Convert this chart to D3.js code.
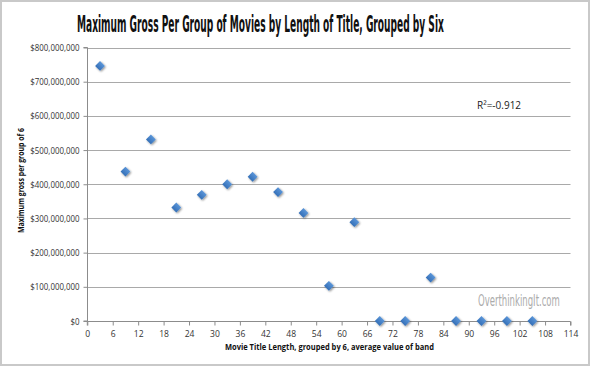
<!DOCTYPE html>
<html>
<head>
<meta charset="utf-8">
<script src="https://cdn.jsdelivr.net/npm/d3@7"></script>
<style>
  body { margin: 0; background: #fff; }
  svg { display: block; }
</style>
</head>
<body>
<script>
// band midpoints (title length, grouped by 6)
var bands = [3, 9, 15, 21, 27, 33, 39, 45, 51, 57, 63, 69, 75, 81, 87, 93, 99, 105];
// maximum gross per band, dollars
var maxGross = [746e6, 437e6, 531e6, 332e6, 369e6, 400e6, 422e6, 377e6, 316e6,
                103e6, 289e6, 0, 0, 127e6, 0, 0, 0, 0];
var xTicks = d3.range(0, 115, 6);
var yTicks = d3.range(0, 800000001, 100000000);

var width = 590, height = 366;
var margin = {top: 47.5, right: 19.5, bottom: 45, left: 87.3};

var svg = d3.select("body").append("svg")
    .attr("width", width)
    .attr("height", height);

// outer frame
svg.append("rect")
    .attr("x", 1).attr("y", 1)
    .attr("width", width - 2).attr("height", height - 2)
    .attr("fill", "#fff")
    .attr("stroke", "#c9c9c9")
    .attr("stroke-width", 2);

var defs = svg.append("defs");
var shadow = defs.append("filter").attr("id", "shadow")
    .attr("x", "-50%").attr("y", "-50%").attr("width", "200%").attr("height", "200%");
shadow.append("feGaussianBlur").attr("in", "SourceAlpha").attr("stdDeviation", 1.3);
shadow.append("feOffset").attr("dx", 0.5).attr("dy", 1.2).attr("result", "blur");
shadow.append("feComponentTransfer").append("feFuncA").attr("type", "linear").attr("slope", 0.45);
var merge = shadow.append("feMerge");
merge.append("feMergeNode");
merge.append("feMergeNode").attr("in", "SourceGraphic");

var grad = defs.append("linearGradient").attr("id", "blue")
    .attr("x1", 0).attr("y1", 0).attr("x2", 0).attr("y2", 1);
grad.append("stop").attr("offset", "0%").attr("stop-color", "#5a95d8");
grad.append("stop").attr("offset", "100%").attr("stop-color", "#3570b8");

var x = d3.scaleLinear().domain([0, 114]).range([margin.left, width - margin.right]);
var y = d3.scaleLinear().domain([0, 800000000]).range([height - margin.bottom, margin.top]);

var font = "'Open Sans', 'DejaVu Sans', sans-serif";
var condensed = "'DejaVu Sans Condensed', 'Liberation Sans Narrow', sans-serif";

// squeeze a text horizontally to a given width, keeping its left edge at x0
function squeeze(sel, x0, y0, w) {
  var len = sel.node().getComputedTextLength();
  sel.attr("transform", "translate(" + x0 + "," + y0 + ") scale(" + (w / len) + ",1)");
}

// title
var title = svg.append("text")
    .attr("font-family", condensed)
    .attr("font-weight", "bold")
    .attr("font-size", 23)
    .attr("fill", "#111")
    .text("Maximum Gross Per Group of Movies by Length of Title, Grouped by Six");
squeeze(title, 77, 32, 367);

// gridlines
svg.append("g")
  .selectAll("line")
  .data(yTicks.slice(1))
  .enter().append("line")
    .attr("x1", x(0)).attr("x2", x(114))
    .attr("y1", function(d) { return Math.round(y(d)) + 0.5; })
    .attr("y2", function(d) { return Math.round(y(d)) + 0.5; })
    .attr("stroke", "#a9a9a9")
    .attr("stroke-width", 1);

// y axis
var yAxis = svg.append("g")
    .attr("transform", "translate(" + (Math.round(x(0)) + 0.5) + ",0)")
    .call(d3.axisLeft(y).tickValues(yTicks).tickSize(4).tickPadding(4)
      .tickFormat(function(d) { return "$" + d3.format(",")(d); }));

// x axis
var xAxis = svg.append("g")
    .attr("transform", "translate(0," + (Math.round(y(0)) + 0.5) + ")")
    .call(d3.axisBottom(x).tickValues(xTicks).tickSize(4).tickPadding(5));

[yAxis, xAxis].forEach(function(a) {
  a.select(".domain").attr("stroke", "#8c8c8c");
  a.selectAll(".tick line").attr("stroke", "#8c8c8c");
  a.selectAll("text")
    .attr("font-family", font)
    .attr("font-size", 9.5)
    .attr("fill", "#333");
});
// narrower labels, like the original
yAxis.selectAll(".tick text").each(function() {
  var len = this.getComputedTextLength();
  d3.select(this)
    .attr("textLength", len * 0.83)
    .attr("lengthAdjust", "spacingAndGlyphs");
});
xAxis.selectAll(".tick text").each(function() {
  var len = this.getComputedTextLength();
  d3.select(this)
    .attr("textLength", len * 0.9)
    .attr("lengthAdjust", "spacingAndGlyphs");
});
yAxis.select(".domain").attr("d", "M-4," + y(800000000) + "H0V" + y(0) + "H-4");
xAxis.select(".domain").attr("d", "M" + x(0) + ",4V0H" + x(114) + "V4");

// axis titles
svg.append("text")
    .attr("x", x(57) - 104).attr("y", 350)
    .attr("textLength", 209)
    .attr("lengthAdjust", "spacingAndGlyphs")
    .attr("font-family", font)
    .attr("font-weight", "bold")
    .attr("font-size", 9)
    .attr("fill", "#111")
    .text("Movie Title Length, grouped by 6, average value of band");

svg.append("text")
    .attr("transform", "translate(24," + 233 + ") rotate(-90)")
    .attr("textLength", 105)
    .attr("lengthAdjust", "spacingAndGlyphs")
    .attr("font-family", font)
    .attr("font-weight", "bold")
    .attr("font-size", 9)
    .attr("fill", "#111")
    .text("Maximum gross per group of 6");

// R² note
svg.append("text")
    .attr("x", 477).attr("y", 109)
    .attr("font-family", font)
    .attr("font-size", 10)
    .attr("fill", "#222")
    .text("R²=-0.912");

// watermark
var mark = svg.append("text")
    .attr("font-family", condensed)
    .attr("font-size", 15)
    .attr("fill", "#ababab")
    .text("OverthinkingIt.com");
squeeze(mark, 478, 306, 82);

// markers
var points = bands.map(function(b, i) { return {x: b, y: maxGross[i]}; });
svg.append("g")
    .attr("filter", "url(#shadow)")
  .selectAll("path")
  .data(points)
  .enter().append("path")
    .attr("d", d3.symbol().type(d3.symbolSquare).size(48))
    .attr("transform", function(d) {
      return "translate(" + x(d.x) + "," + y(d.y) + ") rotate(45)";
    })
    .attr("fill", "url(#blue)");
</script>
</body>
</html>
